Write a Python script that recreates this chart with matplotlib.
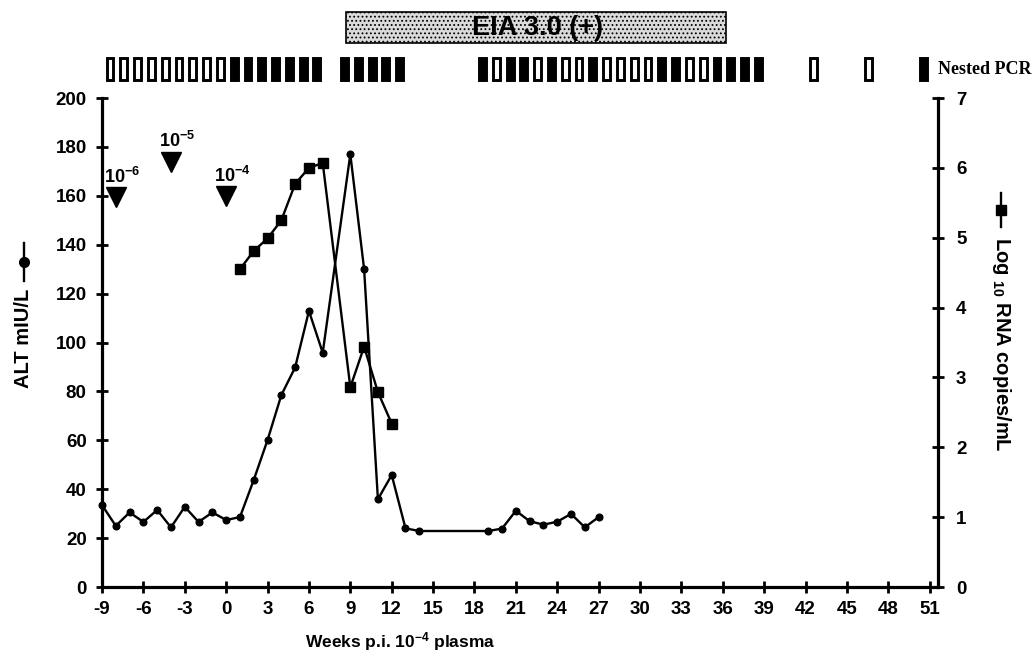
import matplotlib
matplotlib.use('Agg')
import matplotlib.pyplot as plt
from matplotlib.patches import Rectangle
from matplotlib.lines import Line2D
import matplotlib.transforms as mtransforms

plt.rcParams['font.family'] = ['Liberation Sans', 'DejaVu Sans']
plt.rcParams['font.weight'] = 'bold'
plt.rcParams['axes.unicode_minus'] = False
plt.rcParams['mathtext.fontset'] = 'custom'
plt.rcParams['mathtext.rm'] = 'Liberation Sans:bold'
plt.rcParams['mathtext.bf'] = 'Liberation Sans:bold'
plt.rcParams['mathtext.default'] = 'bf'
plt.rcParams['hatch.color'] = '#a8a8a8'
plt.rcParams['hatch.linewidth'] = 0.8

# ---------------- data ----------------
alt_weeks = [-9, -8, -7, -6, -5, -4, -3, -2, -1, 0, 1, 2, 3, 4, 5, 6, 7,
             9, 10, 11, 12, 13, 14, 19, 20, 21, 22, 23, 24, 25, 26, 27]
alt_values = [33.5, 25, 30.5, 26.6, 31.5, 24.4, 32.8, 26.6, 30.5, 27.4, 28.6,
              43.8, 60.1, 78.5, 89.8, 112.9, 95.8, 177, 130, 35.9, 45.8, 24,
              22.9, 22.9, 23.9, 31.2, 26.9, 25.5, 26.7, 29.9, 24.4, 28.6]

rna_weeks = [1, 2, 3, 4, 5, 6, 7, 9, 10, 11, 12]
rna_values = [4.55, 4.81, 4.99, 5.25, 5.77, 6.0, 6.07, 2.86, 3.44, 2.79, 2.34]

dilution_weeks = [-8, -4, 0]
dilution_alt = [159.5, 174, 160]
dilution_labels = ['10$^{-6}$', '10$^{-5}$', '10$^{-4}$']

pcr_weeks = (list(range(-8, 8)) + list(range(9, 14)) + list(range(19, 40))
             + [43, 47, 51])
pcr_status = ('HHHHHHHHH' + 'FFFFFFF' + 'FFFFF'
              + 'FHFFHFHHFHHHHFFHHFFFF' + 'HHF')

eia_start_week = 8.7
eia_end_week = 36.2
eia_label = 'EIA 3.0 (+)'

x_ticks = list(range(-9, 52, 3))
alt_ticks = list(range(0, 201, 20))
rna_ticks = list(range(0, 8))

# ---------------- figure ----------------
W, H = 1034, 658
fig = plt.figure(figsize=(W / 100, H / 100), dpi=100)

def fx(px):
    return px / W

def fy(py):
    return 1 - py / H

ax = fig.add_axes([fx(102), fy(587), fx(938) - fx(102), fy(98) - fy(587)])
ax2 = ax.twinx()

ax.set_xlim(-9, 51.6)
ax.set_ylim(0, 200)
ax2.set_ylim(0, 7)

ax.plot(alt_weeks, alt_values, color='black', lw=1.7, marker='o', ms=4.8,
        zorder=3, clip_on=False)
ax2.plot(rna_weeks, rna_values, color='black', lw=1.7, marker='s', ms=6.5,
         zorder=3, clip_on=False)

for w, a, lab in zip(dilution_weeks, dilution_alt, dilution_labels):
    ax.plot([w], [a], marker='v', color='black', ms=15, zorder=4)
    ax.annotate(lab, (w, a), xytext=(4.5, 14.5), textcoords='offset points',
                ha='center', va='center', fontsize=13, fontweight='bold')

for a in (ax, ax2):
    a.spines['top'].set_visible(False)
    for s in ('left', 'right', 'bottom'):
        a.spines[s].set_linewidth(2.3)
ax.spines['right'].set_visible(False)
ax2.spines['left'].set_visible(False)
ax2.spines['bottom'].set_visible(False)

ax.set_xticks(x_ticks)
ax.set_yticks(alt_ticks)
ax2.set_yticks(rna_ticks)
ax.tick_params(axis='x', direction='inout', length=8, width=2,
               labelsize=13.5, pad=6)
ax.tick_params(axis='y', direction='inout', length=8, width=2,
               labelsize=13.5, pad=7)
ax2.tick_params(axis='y', direction='inout', length=8, width=2,
                labelsize=13.5, pad=9)
for lab in ax.get_xticklabels() + ax.get_yticklabels() + ax2.get_yticklabels():
    lab.set_fontweight('bold')

# axis labels
fig.text(fx(400), fy(642), 'Weeks p.i. 10$^{-4}$ plasma', ha='center',
         va='center', fontsize=12.5, fontweight='bold')
fig.text(fx(24), fy(338), 'ALT mIU/L', rotation=90, ha='center', va='center',
         fontsize=14.5, fontweight='bold')
fig.add_artist(Line2D([fx(24), fx(24)], [fy(243), fy(281)], color='black',
                      lw=1.7, transform=fig.transFigure))
fig.add_artist(Line2D([fx(24)], [fy(262)], color='black', marker='o', ms=7,
                      transform=fig.transFigure))
fig.text(fx(1001), fy(344), 'Log $_{10}$ RNA copies/mL', rotation=-90,
         ha='center', va='center', fontsize=14.5, fontweight='bold')
fig.add_artist(Line2D([fx(1001), fx(1001)], [fy(193), fy(227)], color='black',
                      lw=1.7, transform=fig.transFigure))
fig.add_artist(Line2D([fx(1001)], [fy(210)], color='black', marker='s', ms=7,
                      transform=fig.transFigure))

# PCR boxes
trans = mtransforms.blended_transform_factory(ax.transData, fig.transFigure)
pcr_offset = -0.42
bw = 0.5
for w, st in zip(pcr_weeks, pcr_status):
    filled = st == 'F'
    r = Rectangle((w + pcr_offset - bw / 2, fy(80)), bw, fy(58) - fy(80),
                  transform=trans, facecolor='black' if filled else 'white',
                  edgecolor='black', lw=2.1, clip_on=False)
    fig.add_artist(r)
fig.text(fx(938), fy(70), 'Nested PCR', ha='left', va='center',
         fontsize=13, fontweight='bold',
         family=['Liberation Serif', 'DejaVu Serif'])

# EIA box
eia = Rectangle((eia_start_week, fy(43)), eia_end_week - eia_start_week,
                fy(12) - fy(43), transform=trans, facecolor='#dadada',
                edgecolor='black', lw=1.2, hatch='....', clip_on=False,
                zorder=1)
fig.add_artist(eia)
fig.text(fx(538), fy(28), eia_label, ha='center', va='center',
         fontsize=19.5, fontweight='bold', zorder=10)

fig.savefig('out.png', dpi=100)
